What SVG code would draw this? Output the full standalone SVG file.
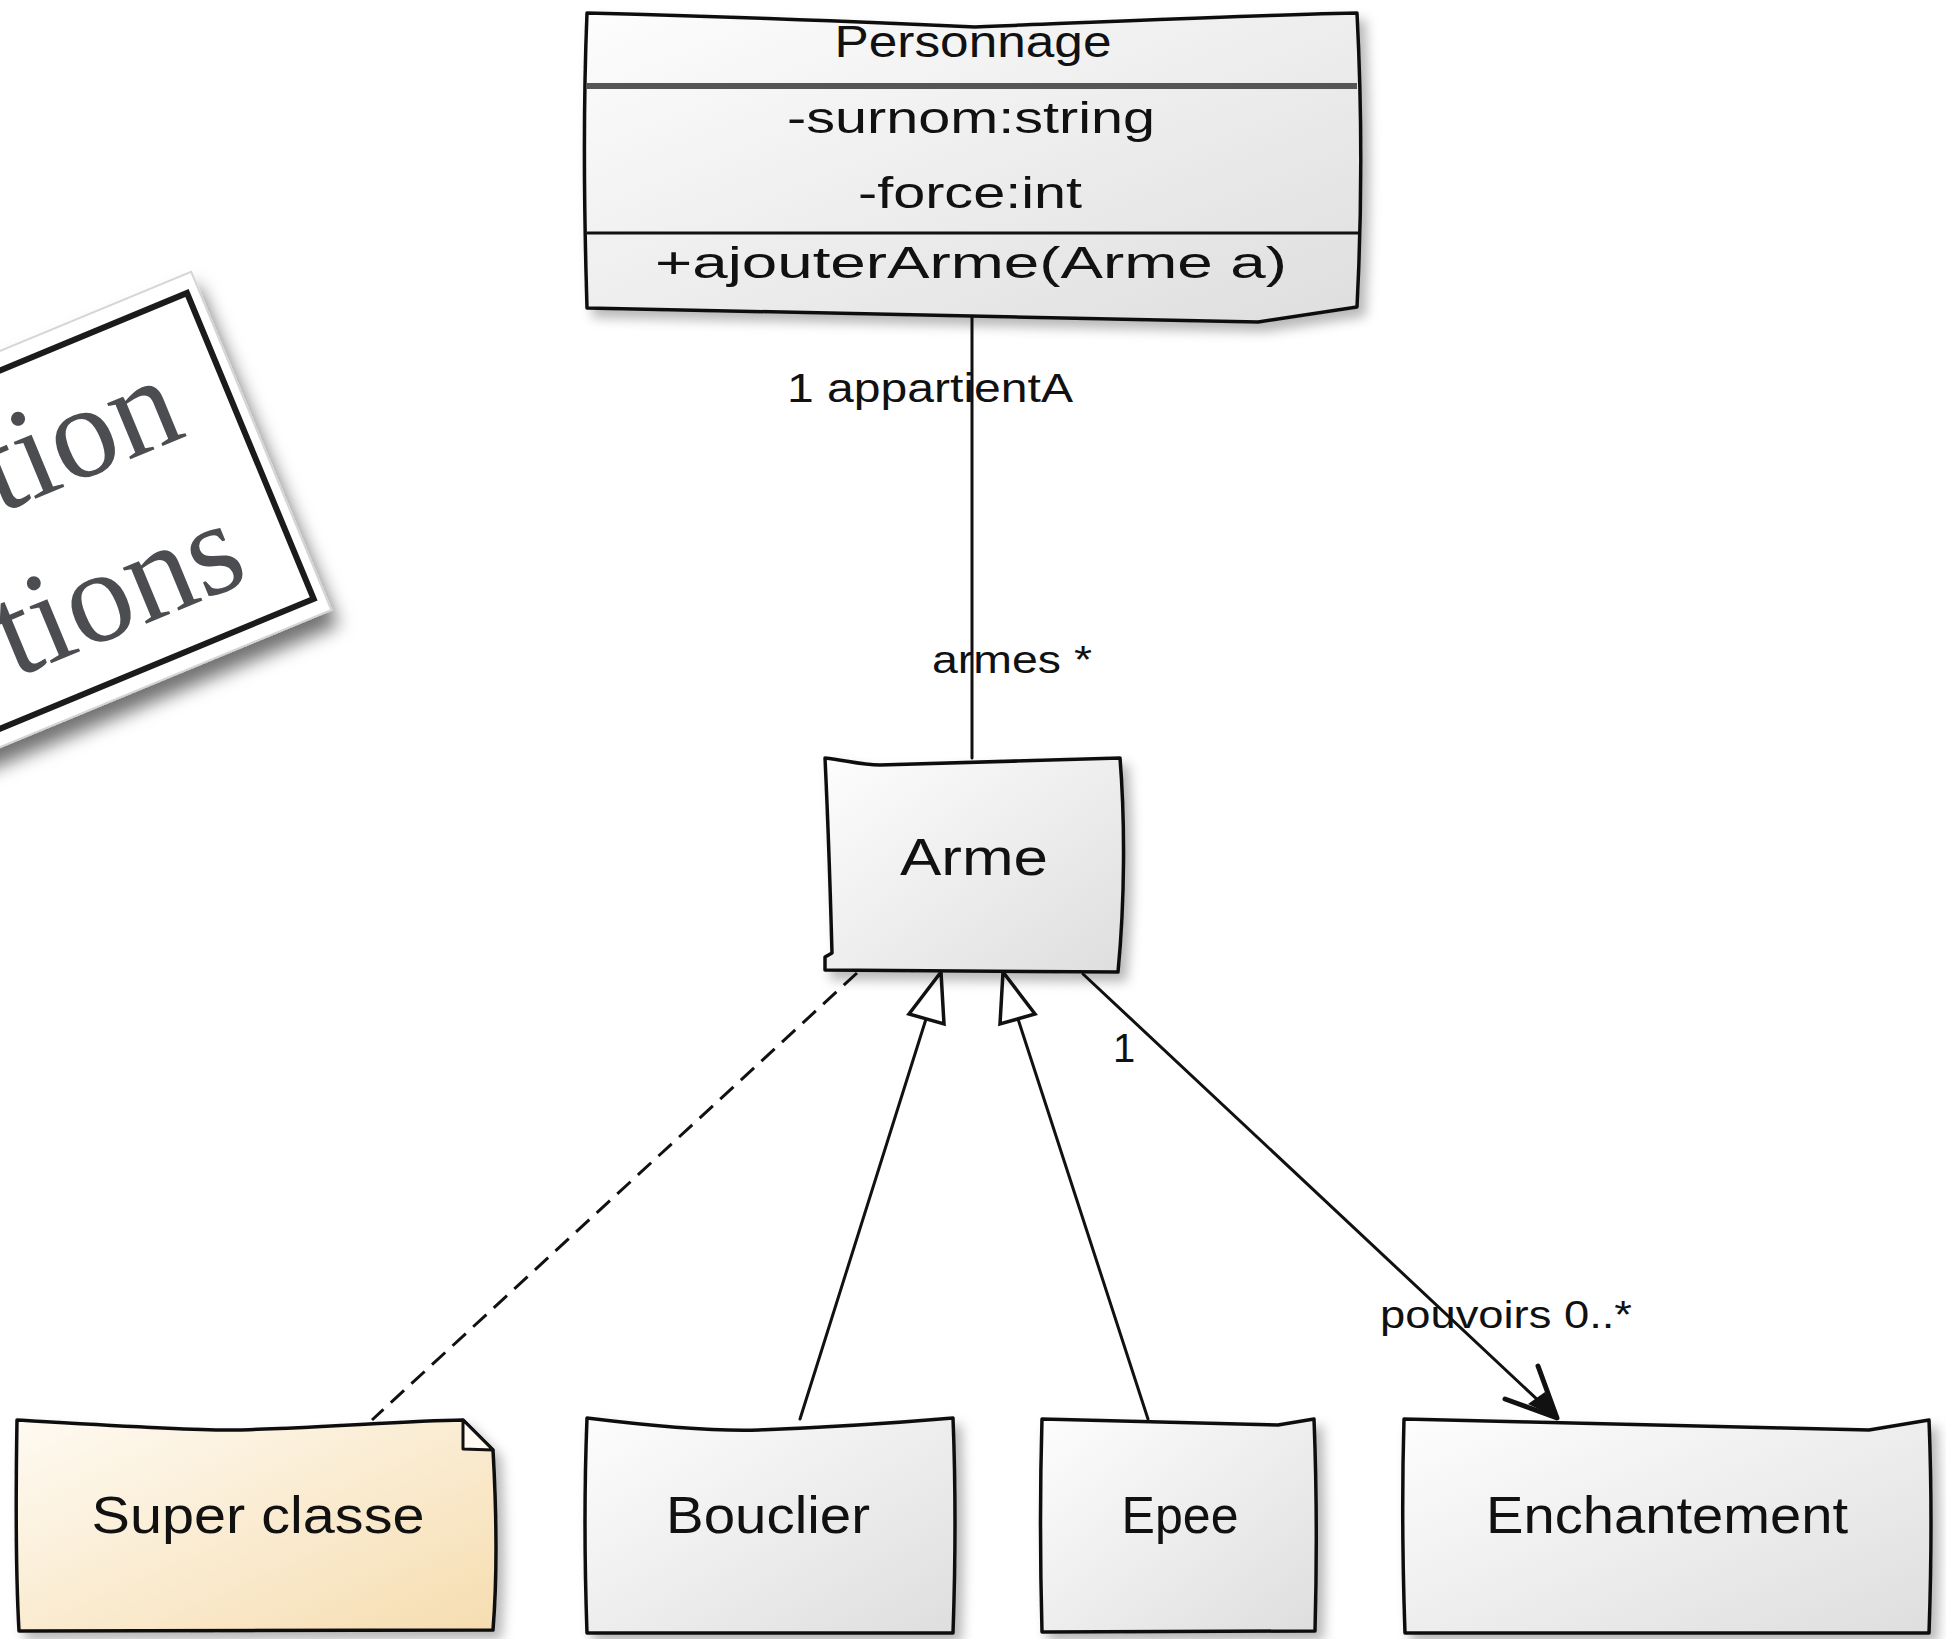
<svg xmlns="http://www.w3.org/2000/svg" width="1946" height="1639" viewBox="0 0 1946 1639">
<defs>
  <linearGradient id="boxFill" x1="0" y1="0" x2="1" y2="1">
    <stop offset="0" stop-color="#fdfdfd"/>
    <stop offset="1" stop-color="#dedede"/>
  </linearGradient>
  <linearGradient id="noteFill" x1="0" y1="0" x2="1" y2="1">
    <stop offset="0" stop-color="#fefaf2"/>
    <stop offset="1" stop-color="#f6ddb0"/>
  </linearGradient>
  <filter id="nodeShadow" x="-10%" y="-10%" width="130%" height="130%">
    <feDropShadow dx="7" dy="8" stdDeviation="6" flood-color="#000" flood-opacity="0.28"/>
  </filter>
  <filter id="cardShadow" x="-10%" y="-20%" width="125%" height="160%">
    <feDropShadow dx="0" dy="16" stdDeviation="9" flood-color="#000" flood-opacity="0.55"/>
  </filter>
  <style>
    .box { fill: url(#boxFill); stroke: #111; stroke-width: 3.5; stroke-linejoin: round; filter: url(#nodeShadow); }
    .note { fill: url(#noteFill); stroke: #111; stroke-width: 3.5; stroke-linejoin: round; filter: url(#nodeShadow); }
    .sep { stroke: #111; stroke-width: 3; fill: none; }
    .hand { font-family: 'Liberation Sans Narrow', 'Liberation Sans', sans-serif; fill: #111; }
    .attr { font-size: 44px; }
    .name { font-size: 52px; }
    .lbl { font-size: 40px; }
    .conn { stroke: #111; stroke-width: 3; fill: none; stroke-linecap: round; }
    .dash { stroke-dasharray: 18 10; stroke-linecap: butt; }
    .tri { fill: #fff; stroke: #111; stroke-width: 3.5; stroke-linejoin: miter; }
    .card { font-family: 'Liberation Serif', 'DejaVu Serif', serif; font-size: 132px; fill: #4b4d50; }
  </style>
</defs>

<rect x="0" y="0" width="1946" height="1639" fill="#ffffff"/>

<g id="title-card" transform="translate(187,293) rotate(-22.5)">
  <rect x="-960" y="-18" width="972" height="366" fill="#ffffff" stroke="#d5d5d5" stroke-width="2" filter="url(#cardShadow)"/>
  <rect x="-940" y="0" width="940" height="331" fill="none" stroke="#1b1b1b" stroke-width="6"/>
  <text x="-53" y="132" text-anchor="end" class="card">tion</text>
  <text x="-50" y="290" text-anchor="end" class="card">tions</text>
</g>

<g id="connectors">
  <line class="conn" x1="972" y1="314" x2="972" y2="758"/>
  <line class="conn dash" x1="857" y1="973" x2="372" y2="1420"/>
  <line class="conn" x1="800" y1="1419" x2="926" y2="1019"/>
  <polygon class="tri" points="941,972 909,1014 944,1024"/>
  <line class="conn" x1="1148" y1="1419" x2="1018" y2="1019"/>
  <polygon class="tri" points="1003,972 1035,1014 1000,1024"/>
  <line class="conn" x1="1083" y1="974" x2="1557" y2="1418"/>
  <path d="M1538,1366 L1557,1418 L1505,1399" fill="none" stroke="#111" stroke-width="5" stroke-linejoin="round" stroke-linecap="round"/>
  <path d="M1545,1392 L1557,1418 L1528,1404 Z" fill="#111"/>
  <text class="hand lbl" x="787" y="402" textLength="286" lengthAdjust="spacingAndGlyphs">1 appartientA</text>
  <text class="hand lbl" x="932" y="673" textLength="160" lengthAdjust="spacingAndGlyphs" style="font-size:38px">armes *</text>
  <text class="hand lbl" x="1113" y="1062">1</text>
  <text class="hand lbl" x="1380" y="1328" textLength="252" lengthAdjust="spacingAndGlyphs" style="font-size:38px">pouvoirs 0..*</text>
</g>

<g id="personnage">
  <path class="box" d="M587,13 C700,16 850,21 975,27 C1100,22 1250,15 1357,13 C1362,110 1362,210 1357,307 L1258,322 C1100,320 900,315 587,308 C584,210 583,110 587,13 Z"/>
  <line x1="587" y1="86" x2="1357" y2="86" stroke="#555" stroke-width="6"/>
  <line class="sep" x1="587" y1="233" x2="1358" y2="233"/>
  <text class="hand attr" x="973" y="57" text-anchor="middle" textLength="277" lengthAdjust="spacingAndGlyphs">Personnage</text>
  <text class="hand attr" x="971" y="133" text-anchor="middle" textLength="368" lengthAdjust="spacingAndGlyphs">-surnom:string</text>
  <text class="hand attr" x="970" y="208" text-anchor="middle" textLength="224" lengthAdjust="spacingAndGlyphs">-force:int</text>
  <text class="hand attr" x="971" y="278" text-anchor="middle" textLength="632" lengthAdjust="spacingAndGlyphs">+ajouterArme(Arme a)</text>
</g>

<g id="arme">
  <path class="box" d="M825,758 C845,760 860,765 880,765 L1120,758 C1125,820 1125,900 1118,972 L825,970 L825,957 L832,953 C830,880 828,820 825,758 Z"/>
  <text class="hand name" x="974" y="875" text-anchor="middle" textLength="148" lengthAdjust="spacingAndGlyphs">Arme</text>
</g>

<g id="super-classe">
  <path class="note" d="M17,1420 C120,1426 200,1431 233,1430 C320,1428 400,1421 463,1420 L493,1450 C497,1520 497,1580 493,1630 L19,1631 C15,1560 16,1480 17,1420 Z"/>
  <path d="M463,1420 L463,1449 L493,1450 Z" fill="#fffbf3" stroke="#111" stroke-width="3" stroke-linejoin="round"/>
  <text class="hand name" x="258" y="1533" text-anchor="middle" textLength="333" lengthAdjust="spacingAndGlyphs">Super classe</text>
</g>

<g id="bouclier">
  <path class="box" d="M587,1418 Q700,1432 759,1430 Q860,1426 953,1418 Q957,1520 953,1633 L587,1633 Q583,1520 587,1418 Z"/>
  <text class="hand name" x="768" y="1533" text-anchor="middle" textLength="204" lengthAdjust="spacingAndGlyphs">Bouclier</text>
</g>

<g id="epee">
  <path class="box" d="M1042,1419 L1278,1425 L1314,1419 Q1318,1520 1315,1631 L1042,1632 Q1039,1520 1042,1419 Z"/>
  <text class="hand name" x="1180" y="1533" text-anchor="middle" textLength="117" lengthAdjust="spacingAndGlyphs">Epee</text>
</g>

<g id="enchantement">
  <path class="box" d="M1404,1419 Q1640,1425 1869,1430 L1929,1420 Q1933,1520 1929,1633 L1405,1633 Q1401,1520 1404,1419 Z"/>
  <text class="hand name" x="1667" y="1533" text-anchor="middle" textLength="362" lengthAdjust="spacingAndGlyphs">Enchantement</text>
</g>
</svg>
